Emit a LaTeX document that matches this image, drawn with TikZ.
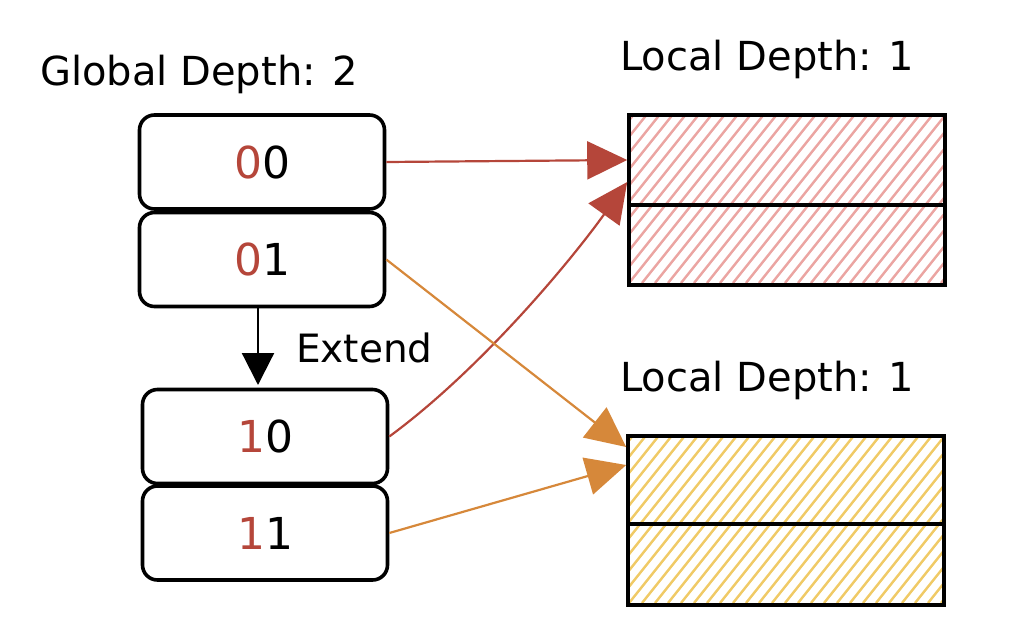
\documentclass[tikz,border=0pt]{standalone}
\usepackage{fontspec}
\setmainfont{DejaVu Sans}
\usetikzlibrary{arrows.meta}
\definecolor{redA}{HTML}{B5463A}
\definecolor{orA}{HTML}{D6883A}
\definecolor{redH}{HTML}{EBA5A2}
\definecolor{yelH}{HTML}{F0CA66}
\tikzset{
  keybox/.style={draw=black, line width=3.6pt, rounded corners=15pt, minimum width=245pt, minimum height=94pt, inner sep=0pt, font=\fontsize{44}{46}\selectfont},
  title/.style={font=\fontsize{40}{44}\selectfont, anchor=base west, inner sep=0pt},
  conn/.style={line width=2.2pt, -{Triangle[length=40pt,width=38pt]}},
  bucket/.style={draw=black, line width=3.6pt, minimum width=316pt, inner sep=0pt},
}
\newcommand{\hatchfill}[5]{%
  \begin{scope}
    \clip (#1,#2) rectangle (#3,#4);
    \foreach \k in {-300,-287,...,400} {
      \draw[#5, line width=2.4pt] (#1+\k,#4) -- ++(240,-300);
    }
  \end{scope}}
\begin{document}
\begin{tikzpicture}[x=1pt,y=-1pt]
\useasboundingbox (0,0) rectangle (1032,640);

% titles
\node[title] (gd) at (40,85) {Global Depth: 2};
\node[title] (ld1) at (620,70) {Local Depth: 1};
\node[title] (ld2) at (620,391) {Local Depth: 1};

% hatching
\hatchfill{630}{117}{944}{283}{redH}
\hatchfill{630}{438}{942}{603}{yelH}

% buckets
\node[bucket, minimum height=90pt] (r1) at (787,160) {};
\node[bucket, minimum height=80pt] (r2) at (787,245) {};
\node[bucket, minimum height=88pt] (y1) at (786,480) {};
\node[bucket, minimum height=81pt] (y2) at (786,564.5) {};

% key boxes
\node[keybox] (k00) at (262,162) {\textcolor{redA}{0}0};
\node[keybox] (k01) at (262,259.5) {\textcolor{redA}{0}1};
\node[keybox] (k10) at (265,436.5) {\textcolor{redA}{1}0};
\node[keybox] (k11) at (265,533) {\textcolor{redA}{1}1};

% extend
\draw[line width=2.2pt, -{Triangle[length=32pt,width=32pt]}] (k01.south -| 258,0) -- (258,385) coordinate (extEnd);
\node[font=\fontsize{39}{40}\selectfont, anchor=base west, inner sep=0pt] (ext) at (296,362) {Extend};

% connectors
\draw[conn, redA] (k00.east) -- (r1.west);
\draw[conn, redA] (k10.east) .. controls (480,370) and (570,262) .. ([yshift=-22pt]r1.west);
\draw[conn, orA] (k01.east) -- ([yshift=33pt]y1.west);
\draw[conn, orA] (k11.east) -- ([yshift=15pt]y1.west);
\end{tikzpicture}
\end{document}
